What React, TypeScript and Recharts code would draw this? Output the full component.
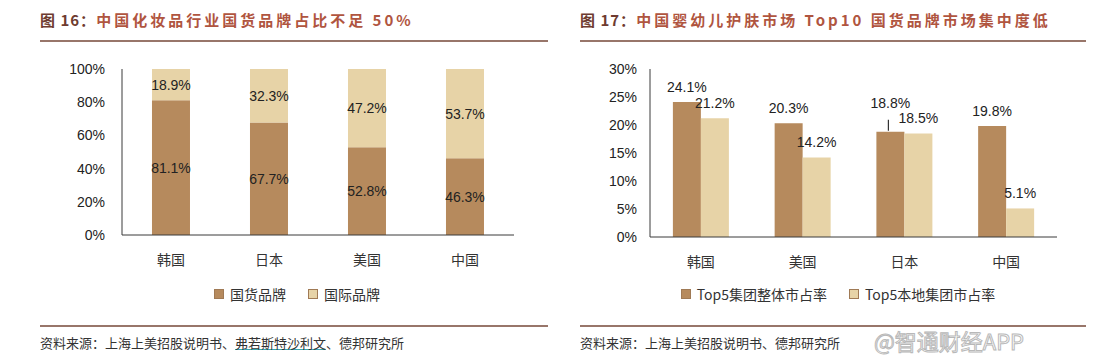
import React from 'react'
import { BarChart, Bar, XAxis, YAxis, LabelList } from 'recharts'

const shareCountries = ['韩国', '日本', '美国', '中国']
const domesticShare = [81.1, 67.7, 52.8, 46.3]
const foreignShare = [18.9, 32.3, 47.2, 53.7]
const shareTicks = [0, 20, 40, 60, 80, 100]

const topCountries = ['韩国', '美国', '日本', '中国']
const top5Total = [24.1, 20.3, 18.8, 19.8]
const top5Local = [21.2, 14.2, 18.5, 5.1]
const topTicks = [0, 5, 10, 15, 20, 25, 30]

const DARK = '#b68a5d'
const LIGHT = '#e7d3a7'
const AXIS = '#3a3a3a'
const NUM_FONT = '"Liberation Sans", Arial, sans-serif'
const CJK_FONT = '"Noto Sans CJK SC", sans-serif'

const shareData = shareCountries.map((name, i) => ({
  name,
  domestic: domesticShare[i],
  foreign: foreignShare[i],
}))

const topData = topCountries.map((name, i) => ({
  name,
  total: top5Total[i],
  local: top5Local[i],
}))

const pct = (v: any) => `${Number(v).toFixed(1)}%`

// label above bar; lifted with a leader line when the neighbour bar is almost as tall
function TopLabel(props: any) {
  const { x, y, width, value, index } = props
  const other = top5Local[index]
  const lift = Math.abs(other - value) < 1
  const cx = x + width / 2
  const ty = lift ? y - 24 : y - 10
  return (
    <g>
      {lift && <line x1={cx - 2} x2={cx - 2} y1={y - 1} y2={y - 12} stroke="#333" strokeWidth={1.2} />}
      <text x={cx} y={ty} textAnchor="middle" fontSize={14} fill="#222" fontFamily={NUM_FONT}>
        {pct(value)}
      </text>
    </g>
  )
}

function Title({ num, text, left }: { num: string; text: string; left: number }) {
  return (
    <div
      style={{
        position: 'absolute',
        left,
        top: 9,
        fontSize: 15,
        fontWeight: 700,
        fontFamily: CJK_FONT,
        color: '#b0553f',
        whiteSpace: 'nowrap',
        letterSpacing: 3,
      }}
    >
      <span style={{ color: '#6e3b30', letterSpacing: 1 }}>图 {num}：</span>
      {text}
    </div>
  )
}

function Rule({ left, width, top }: { left: number; width: number; top: number }) {
  return <div style={{ position: 'absolute', left, top, width, height: 2, background: '#98766a' }} />
}

function LegendRow({ items, center }: { items: { name: string; color: string }[]; center: number }) {
  return (
    <div
      style={{
        position: 'absolute',
        left: center - 250,
        width: 500,
        top: 284,
        display: 'flex',
        justifyContent: 'center',
        gap: 22,
        fontSize: 14,
        fontFamily: CJK_FONT,
        color: '#333',
      }}
    >
      {items.map((it) => (
        <span key={it.name} style={{ display: 'flex', alignItems: 'center', gap: 6 }}>
          <span style={{ width: 8, height: 8, background: it.color, border: '1px solid #a07a55', display: 'inline-block' }} />
          {it.name}
        </span>
      ))}
    </div>
  )
}

export default function App() {
  return (
    <div style={{ position: 'relative', width: 1108, height: 360, background: '#fff', overflow: 'hidden' }}>
      <style>{'body{margin:0}'}</style>

      <Title num="16" text="中国化妆品行业国货品牌占比不足 50%" left={40} />
      <Title num="17" text="中国婴幼儿护肤市场 Top10 国货品牌市场集中度低" left={580} />
      <Rule left={40} width={508} top={40} />
      <Rule left={580} width={506} top={40} />

      <div style={{ position: 'absolute', left: 0, top: 0 }}>
        <BarChart width={560} height={280} data={shareData} margin={{ top: 69, right: 46, bottom: 15, left: 0 }} barCategoryGap="30.6%">
          <XAxis
            dataKey="name"
            height={30}
            tickLine={false}
            tickMargin={14}
            axisLine={{ stroke: AXIS }}
            tick={{ fill: '#333', fontSize: 14, fontFamily: CJK_FONT }}
          />
          <YAxis
            width={122}
            domain={[0, 100]}
            ticks={shareTicks}
            tickFormatter={(v) => `${v}%`}
            tickLine={false}
            tickMargin={11}
            axisLine={{ stroke: AXIS }}
            tick={{ fill: '#222', fontSize: 14, fontFamily: NUM_FONT }}
          />
          <Bar dataKey="domestic" stackId="s" fill={DARK} isAnimationActive={false}>
            <LabelList dataKey="domestic" position="center" formatter={pct} fill="#222" fontSize={14} fontFamily={NUM_FONT} />
          </Bar>
          <Bar dataKey="foreign" stackId="s" fill={LIGHT} isAnimationActive={false}>
            <LabelList dataKey="foreign" position="center" formatter={pct} fill="#222" fontSize={14} fontFamily={NUM_FONT} />
          </Bar>
        </BarChart>
      </div>

      <div style={{ position: 'absolute', left: 560, top: 0 }}>
        <BarChart width={548} height={280} data={topData} margin={{ top: 69, right: 51, bottom: 13, left: 0 }} barCategoryGap="22.5%" barGap={0}>
          <XAxis
            dataKey="name"
            height={30}
            tickLine={false}
            tickMargin={14}
            axisLine={{ stroke: AXIS }}
            tick={{ fill: '#333', fontSize: 14, fontFamily: CJK_FONT }}
          />
          <YAxis
            width={90}
            domain={[0, 30]}
            ticks={topTicks}
            tickFormatter={(v) => `${v}%`}
            tickLine={false}
            tickMargin={7}
            axisLine={{ stroke: AXIS }}
            tick={{ fill: '#222', fontSize: 14, fontFamily: NUM_FONT }}
          />
          <Bar dataKey="total" fill={DARK} isAnimationActive={false}>
            <LabelList dataKey="total" content={TopLabel} />
          </Bar>
          <Bar dataKey="local" fill={LIGHT} isAnimationActive={false}>
            <LabelList dataKey="local" position="top" offset={10} formatter={pct} fill="#222" fontSize={14} fontFamily={NUM_FONT} />
          </Bar>
        </BarChart>
      </div>

      <LegendRow
        center={297}
        items={[
          { name: '国货品牌', color: DARK },
          { name: '国际品牌', color: LIGHT },
        ]}
      />
      <LegendRow
        center={838}
        items={[
          { name: 'Top5集团整体市占率', color: DARK },
          { name: 'Top5本地集团市占率', color: LIGHT },
        ]}
      />

      <Rule left={40} width={508} top={325} />
      <Rule left={580} width={506} top={325} />

      <div style={{ position: 'absolute', left: 40, top: 333, fontSize: 13, fontFamily: CJK_FONT, color: '#333', whiteSpace: 'nowrap' }}>
        资料来源：上海上美招股说明书、
        <span style={{ textDecoration: 'underline', textDecorationColor: '#3aa6b0' }}>弗若斯特沙利文</span>、德邦研究所
      </div>
      <div style={{ position: 'absolute', left: 580, top: 333, fontSize: 13, fontFamily: CJK_FONT, color: '#333', whiteSpace: 'nowrap' }}>
        资料来源：上海上美招股说明书、德邦研究所
      </div>
      <div
        style={{
          position: 'absolute',
          left: 874,
          top: 326,
          fontSize: 22,
          lineHeight: '28px',
          fontFamily: CJK_FONT,
          color: 'rgba(255,255,255,0.6)',
          WebkitTextStroke: '1px #b8b8b8',
          whiteSpace: 'nowrap',
        }}
      >
        @智通财经APP
      </div>
    </div>
  )
}
